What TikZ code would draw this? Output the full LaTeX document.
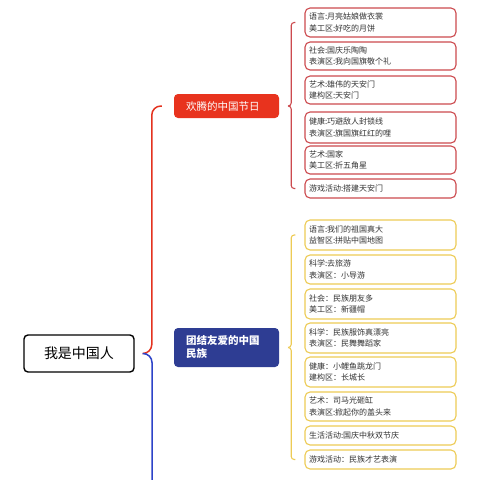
\documentclass[tikz,border=0pt]{standalone}
\usepackage{fontspec}
\setmainfont{Noto Sans CJK SC}
\usetikzlibrary{calc}
\definecolor{redmain}{HTML}{E4321F}
\definecolor{bluemain}{HTML}{2D43C8}
\definecolor{topred}{HTML}{E8331E}
\definecolor{topblue}{HTML}{2E3D93}
\definecolor{cred}{HTML}{CC4A4E}
\definecolor{cyellow}{HTML}{EDCB55}
\definecolor{ctext}{HTML}{333333}
\begin{document}
\begin{tikzpicture}[x=1pt,y=-1pt]
\tikzset{
 rootbox/.style={draw=black, line width=1.4pt, rounded corners=4pt, minimum width=110pt, minimum height=37pt, inner sep=0pt, font=\fontsize{14}{16}\selectfont},
 topicbox/.style={rounded corners=4pt, text width=81pt, align=left, inner xsep=12pt, inner ysep=0pt, text=white, font=\fontsize{10.5}{13}\selectfont},
 childbox/.style={draw, line width=1.1pt, rounded corners=5pt, text width=143pt, inner xsep=4pt, inner ysep=0pt, align=left, text=ctext, fill=white, font=\fontsize{8}{11.5}\selectfont},
 rbox/.style={childbox, draw=cred},
 ybox/.style={childbox, draw=cyellow},
 mainline/.style={line width=1.5pt, rounded corners=9pt},
 subline/.style={line width=1.1pt, rounded corners=3pt},
}
\useasboundingbox (0,0) rectangle (480,480);
\node[rootbox] (root) at (79,353.5) {我是中国人};
\node[topicbox, fill=topred, minimum height=24pt] (t1) at (226.5,106) {欢腾的中国节日};
\node[topicbox, fill=topblue, minimum height=39pt, font=\fontsize{10.5}{13}\selectfont\bfseries] (t2) at (226.5,347.5) {团结友爱的中国\\民族};

\node[rbox, minimum height=29pt] (r1) at (380.5,22.5) {语言:月亮姑娘做衣裳\\美工区:好吃的月饼};
\node[rbox, minimum height=28pt] (r2) at (380.5,56) {社会:国庆乐陶陶\\表演区:我向国旗敬个礼};
\node[rbox, minimum height=28pt] (r3) at (380.5,90) {艺术:雄伟的天安门\\建构区:天安门};
\node[rbox, minimum height=31pt] (r4) at (380.5,127.5) {健康:巧避敌人封锁线\\表演区:旗国旗红红的哩};
\node[rbox, minimum height=28pt] (r5) at (380.5,160) {艺术:国家\\美工区:折五角星};
\node[rbox, minimum height=19pt] (r6) at (380.5,188.5) {游戏活动:搭建天安门};

\node[ybox, minimum height=30pt] (y1) at (380.5,235) {语言:我们的祖国真大\\益智区:拼贴中国地图};
\node[ybox, minimum height=29pt] (y2) at (380.5,269.5) {科学:去旅游\\表演区：小导游};
\node[ybox, minimum height=30pt] (y3) at (380.5,304) {社会：民族朋友多\\美工区：新疆帽};
\node[ybox, minimum height=30pt] (y4) at (380.5,338) {科学：民族服饰真漂亮\\表演区：民舞舞蹈家};
\node[ybox, minimum height=30pt] (y5) at (380.5,372) {健康：小鲤鱼跳龙门\\建构区：长城长};
\node[ybox, minimum height=29pt] (y6) at (380.5,406.5) {艺术：司马光砸缸\\表演区:掀起你的盖头来};
\node[ybox, minimum height=19pt] (y7) at (380.5,435.5) {生活活动:国庆中秋双节庆};
\node[ybox, minimum height=19pt] (y8) at (380.5,459.5) {游戏活动：民族才艺表演};

% main brace
\coordinate (bp) at ($(root.east)+(8,0)$);
\coordinate (down) at (152,495);
\draw[mainline, draw=redmain] (bp) -| ($(t1.west)+(-22,0)$) -- ($(t1.west)+(-12,0)$);
\draw[mainline, draw=bluemain] (bp) -| (down);

% red child brace
\coordinate (c1) at ($(t1.east)+(9,0)$);
\draw[subline, draw=cred] ($(r1.west)+(-9,0)$) -| ($(c1)+(3,0)$) -- (c1);
\draw[subline, draw=cred] ($(r6.west)+(-9,0)$) -| ($(c1)+(3,0)$) -- (c1);

% yellow child brace
\coordinate (c2) at ($(t2.east)+(9,0)$);
\draw[subline, draw=cyellow] ($(y1.west)+(-9,0)$) -| ($(c2)+(3,0)$) -- (c2);
\draw[subline, draw=cyellow] ($(y8.west)+(-9,0)$) -| ($(c2)+(3,0)$) -- (c2);
\end{tikzpicture}
\end{document}
